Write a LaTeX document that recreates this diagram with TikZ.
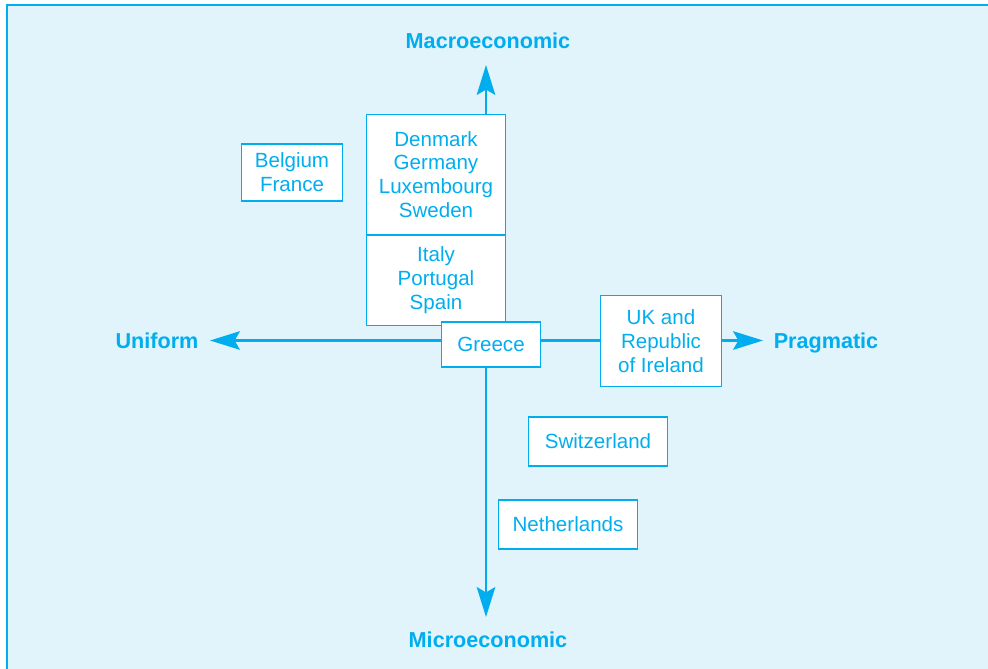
\documentclass[tikz,border=0pt]{standalone}
\usepackage{fontspec}
\setmainfont{Liberation Sans}
\usetikzlibrary{arrows.meta}
\definecolor{cy}{HTML}{00AEEF}
\definecolor{bgc}{HTML}{E1F3FB}
\tikzset{
  box/.style={draw=cy, fill=white, line width=0.7pt, text=cy, align=center,
    font=\fontsize{11.7}{13.6}\selectfont, inner sep=0pt},
  axislbl/.style={text=cy, font=\fontsize{12.3}{14}\selectfont\bfseries, anchor=base},
  axisline/.style={draw=cy, line width=1.5pt},
  axisarrow/.style={axisline, -{Stealth[length=17pt, width=10.5pt, inset=3pt]}}
}
\begin{document}
\begin{tikzpicture}[x=0.02cm, y=-0.02cm]
\useasboundingbox (0,0) rectangle (988,669);
\fill[bgc] (7,5) rectangle (995,675);
\draw[cy, line width=0.9pt] (7,675) -- (7,5) -- (995,5);

\node[box, minimum width=102*0.567pt, minimum height=57*0.567pt] (belgium) at (292,172.5) {Belgium\\France};
\node[box, minimum width=140*0.567pt, minimum height=121*0.567pt] (stacktop) at (436,174.5) {Denmark\\Germany\\Luxembourg\\Sweden};
\node[box, minimum width=140*0.567pt, minimum height=91*0.567pt] (stackbot) at (436,280.5) {Italy\\Portugal\\Spain};
\node[box, minimum width=99*0.567pt, minimum height=45*0.567pt] (greece) at (491,344.5) {Greece};
\node[box, minimum width=122*0.567pt, minimum height=91*0.567pt] (uk) at (661,341) {UK and\\Republic\\of Ireland};
\node[box, minimum width=140*0.567pt, minimum height=49*0.567pt] (swiss) at (598,441.5) {Switzerland};
\node[box, minimum width=140*0.567pt, minimum height=49*0.567pt] (neth) at (568,524.5) {Netherlands};

\node[axislbl] (macro) at (488,49) {Macroeconomic};
\node[axislbl] (micro) at (488,647) {Microeconomic};
\node[axislbl] (uniform) at (157,348) {Uniform};
\node[axislbl] (prag) at (826,348) {Pragmatic};

\coordinate (mtip) at (486,65);
\coordinate (btip) at (486,617);
\coordinate (ltip) at (210,340.5);
\coordinate (rtip) at (763,340.5);

\draw[axisarrow] (stacktop.north -| mtip) -- (mtip);
\draw[axisarrow] (greece.south -| btip) -- (btip);
\draw[axisarrow] (greece.west |- ltip) -- (ltip);
\draw[axisline] (greece.east |- rtip) -- (uk.west |- rtip);
\draw[axisarrow] (uk.east |- rtip) -- (rtip);
\end{tikzpicture}
\end{document}
